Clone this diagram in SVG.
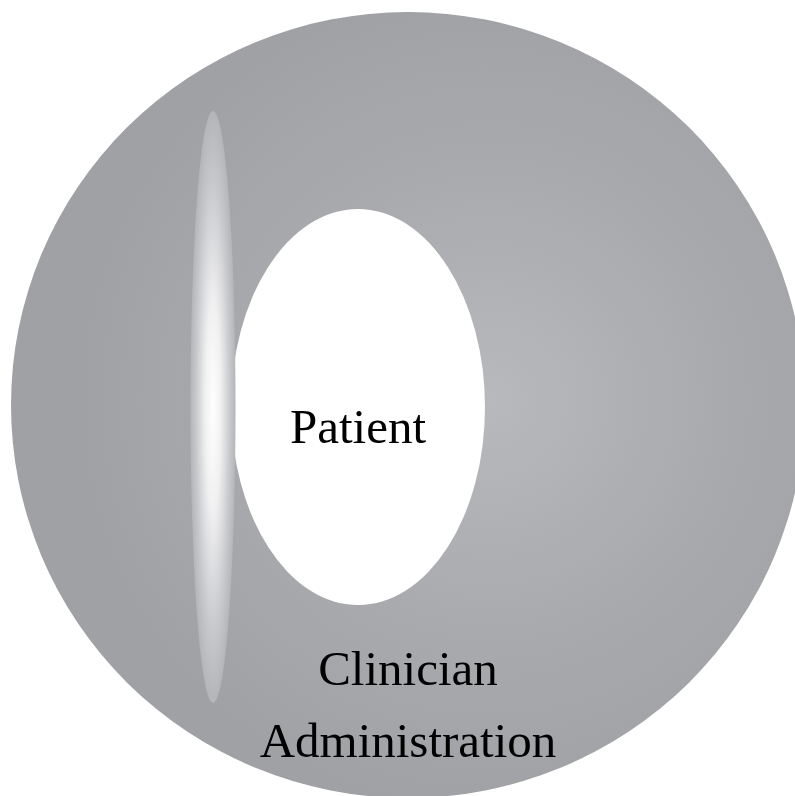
<svg xmlns="http://www.w3.org/2000/svg" width="795" height="796" viewBox="0 0 795 796">
  <defs>
    <radialGradient id="bgGrad" gradientUnits="userSpaceOnUse" cx="490" cy="400" r="420">
      <stop offset="0" stop-color="#b8b9bd"/>
      <stop offset="0.55" stop-color="#a9aaae"/>
      <stop offset="1" stop-color="#a0a1a5"/>
    </radialGradient>
    <radialGradient id="hlGrad" cx="0.5" cy="0.5" r="0.5">
      <stop offset="0" stop-color="#ffffff"/>
      <stop offset="0.35" stop-color="#f0f0f1"/>
      <stop offset="0.75" stop-color="#c8c9cd"/>
      <stop offset="1" stop-color="#b4b5b9"/>
    </radialGradient>
  </defs>
  <style>
    .label { font-family: "Liberation Serif", "Times New Roman", serif; font-size: 49px; fill: #000000; text-anchor: middle; }
  </style>
  <rect width="795" height="796" fill="#ffffff"/>
  <g id="outer">
    <ellipse cx="408" cy="405" rx="397" ry="393" fill="url(#bgGrad)"/>
    <text class="label" x="408" y="685">Clinician</text>
    <text class="label" x="408" y="757">Administration</text>
  </g>
  <g id="patient">
    <ellipse cx="358" cy="407" rx="127" ry="198" fill="#ffffff"/>
    <text class="label" x="358" y="443">Patient</text>
  </g>
  <g id="highlight">
    <ellipse cx="213" cy="407" rx="22.5" ry="296" fill="url(#hlGrad)"/>
  </g>
  <g id="connectors"/>
</svg>
